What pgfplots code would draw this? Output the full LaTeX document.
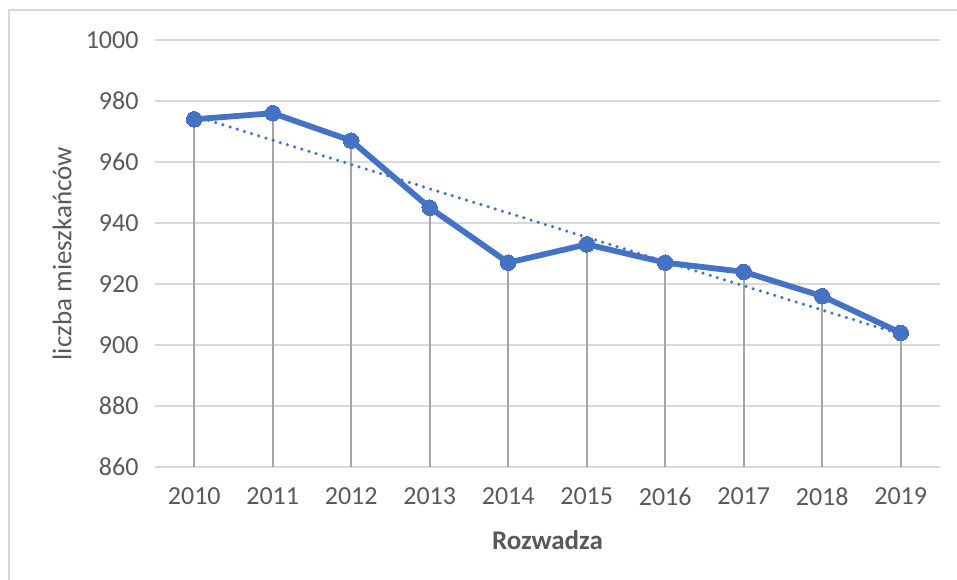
\documentclass[border=0pt]{standalone}
\usepackage{pgfplots}
\pgfplotsset{compat=1.18}
\usepackage{fontspec}
\setmainfont{Carlito}
\definecolor{linblue}{HTML}{4472C4}
\definecolor{gridgray}{HTML}{D9D9D9}
\definecolor{dropgray}{HTML}{A5A5A5}
\definecolor{txtgray}{HTML}{595959}
\begin{document}
\begin{tikzpicture}[x=1pt,y=1pt]
\useasboundingbox (-155,-112) rectangle (802,467);
\draw[gridgray,line width=1.6pt] (-146,-113) -- (-146,457) -- (803,457);
\begin{axis}[
  at={(0,0)}, anchor=south west,
  scale only axis, width=785pt, height=427pt,
  xmin=2009.5, xmax=2019.5, ymin=860, ymax=1000,
  xtick={2010,...,2019},
  ytick={860,880,...,1000},
  /pgf/number format/1000 sep={},
  /pgf/number format/assume math mode=true,
  axis line style={draw=none},
  ymajorgrids, grid style={gridgray,line width=1.6pt},
  major tick length=0pt,
  tick label style={font=\fontsize{26}{30}\selectfont, text=txtgray},
  xticklabel style={yshift=-17pt},
  yticklabel style={xshift=-13pt},
  ylabel={liczba mieszkańców},
  ylabel style={font=\fontsize{27}{31}\selectfont, text=txtgray, at={(-93pt,213.5pt)}, anchor=center},
  xlabel={\textbf{Rozwadza}},
  xlabel style={font=\fontsize{27}{31}\selectfont, text=txtgray, at={(392.5pt,-73pt)}, anchor=center},
  clip=false,
]
\addplot[ycomb, dropgray, line width=1.6pt, mark=none] coordinates {
 (2010,974) (2011,976) (2012,967) (2013,945) (2014,927) (2015,933) (2016,927) (2017,924) (2018,916) (2019,904)};
\addplot[linblue, dash pattern=on 0pt off 7.5pt, line cap=round, line width=3.5pt] coordinates {(2010,975.1) (2019,903.5)};
\addplot[linblue, line width=5.8pt, line join=round, mark=*, mark size=7.8pt, mark options={solid, fill=linblue, line width=0pt}] coordinates {
 (2010,974) (2011,976) (2012,967) (2013,945) (2014,927) (2015,933) (2016,927) (2017,924) (2018,916) (2019,904)};
\end{axis}
\end{tikzpicture}
\end{document}
